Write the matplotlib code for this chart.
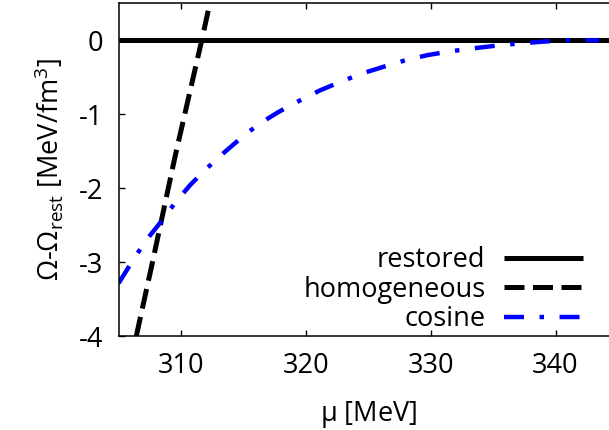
import matplotlib
matplotlib.use("Agg")
import matplotlib.pyplot as plt

plt.rcParams['font.family'] = ['Open Sans', 'DejaVu Sans']
plt.rcParams['mathtext.fontset'] = 'custom'
plt.rcParams['mathtext.rm'] = 'Open Sans'
plt.rcParams['mathtext.default'] = 'regular'

# chemical potential [MeV] vs. grand potential difference [MeV/fm^3]
mu_restored = [305, 345]
om_restored = [0, 0]

mu_homog = [306.4, 307.7, 309.5, 311.65, 312.3]
om_homog = [-4.0, -3.0, -1.58, 0.0, 0.5]

mu_cosine = [305, 306.25, 307.3, 308.44, 309.5, 310.7, 312.0, 313.36, 314.8,
             316.25, 317.8, 319.45, 321.1, 322.8, 324.5, 326.2, 328.0, 329.8,
             331.6, 333.4, 335.2, 337.1, 339.0, 340.8, 343.5]
om_cosine = [-3.28, -2.94, -2.68, -2.44, -2.20, -1.96, -1.74, -1.53, -1.32,
             -1.13, -0.97, -0.82, -0.68, -0.56, -0.45, -0.36, -0.27, -0.20,
             -0.15, -0.11, -0.075, -0.045, -0.02, 0.0, 0.0]

xticks = [310, 320, 330, 340]
yticks = [0, -1, -2, -3, -4]

fig = plt.figure(figsize=(6.09, 4.30), dpi=100)
ax = fig.add_axes([0.195, 0.2177, 0.8197, 0.775])

ax.plot(mu_restored, om_restored, color='black', lw=3.6, label='restored',
        solid_capstyle='butt')
ax.plot(mu_homog, om_homog, color='black', lw=3.6, dashes=(4, 1.7),
        dash_capstyle='butt', label='homogeneous')
ax.plot(mu_cosine, om_cosine, color='#0000ff', lw=3.2,
        dashes=(4.5, 3.5, 1, 3.5), dash_capstyle='butt', label='cosine')

ax.set_xlim(305, 345)
ax.set_ylim(-4, 0.5)
ax.set_xticks(xticks)
ax.set_yticks(yticks)
ax.set_yticklabels([str(v) for v in yticks])
ax.tick_params(direction='in', length=4, width=1, labelsize=19.5,
               top=True, right=True, pad=11)
for s in ax.spines.values():
    s.set_linewidth(1.1)

ax.set_xlabel(r'$\mu$ [MeV]', fontsize=19.5, labelpad=14)
ax.set_ylabel('Ω-Ω$_{rest}$ [MeV/fm$^{3}$]', fontsize=19.5, labelpad=10)

ax.legend(loc='lower right', bbox_to_anchor=(0.968, -0.048), frameon=False,
          fontsize=19.5, markerfirst=False, handlelength=2.9,
          handletextpad=0.7, labelspacing=0.06, borderaxespad=0.3)

fig.savefig('out.png', dpi=100)
